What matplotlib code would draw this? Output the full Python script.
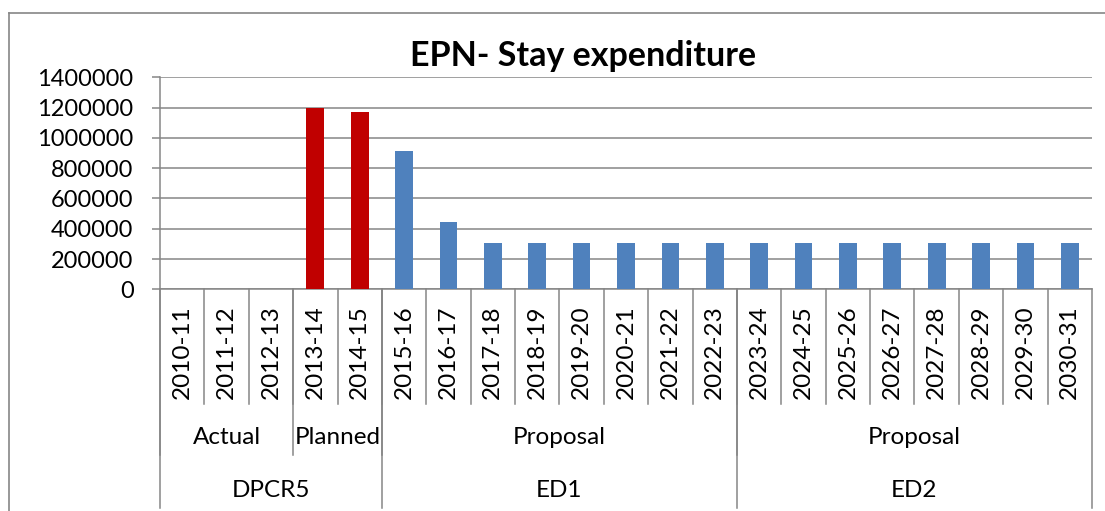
## Import Required Library

import matplotlib.pyplot as plt
from matplotlib.lines import Line2D

## Create Data

years = ["2010-11", "2011-12", "2012-13", "2013-14", "2014-15", "2015-16", "2016-17",
         "2017-18", "2018-19", "2019-20", "2020-21", "2021-22", "2022-23", "2023-24",
         "2024-25", "2025-26", "2026-27", "2027-28", "2028-29", "2029-30", "2030-31"]
spend = [0, 0, 0, 1200000, 1170000, 913000, 442000,
         308000, 308000, 308000, 308000, 308000, 308000, 308000,
         308000, 308000, 308000, 308000, 308000, 308000, 308000]

# second and third level of the category axis: (label, number of years)
status = [("Actual", 3), ("Planned", 2), ("Proposal", 8), ("Proposal", 8)]
periods = [("DPCR5", 5), ("ED1", 8), ("ED2", 8)]

## Style

plt.rcParams['font.family'] = ['Lato', 'DejaVu Sans']
grey = "#868686"
red = "#C00000"
blue = "#4F81BD"

colors = [red if s == "Planned" else blue
          for s, n in status for _ in range(n)]

## Plot Data

fig = plt.figure(figsize=(11.05, 5.11), dpi=100)
ax = fig.add_axes([160 / 1105, 221.7 / 511, 932 / 1105, 212 / 511])

x = list(range(len(years)))
ax.bar(x, spend, width=0.4, color=colors, zorder=3)

ax.set_xlim(-0.5, len(years) - 0.5)
ax.set_ylim(0, 1400000)
ax.set_yticks(range(0, 1400001, 200000))
ax.yaxis.set_major_formatter(plt.FuncFormatter(lambda v, p: f"{int(v)}"))
ax.grid(axis="y", color=grey, lw=1.1, zorder=0)
ax.set_xticks([])

for side in ["top", "right"]:
    ax.spines[side].set_visible(False)
for side in ["left", "bottom"]:
    ax.spines[side].set_color(grey)
    ax.spines[side].set_linewidth(1.1)
ax.tick_params(axis="y", length=6, width=1.1, color=grey, pad=13, labelsize=17)

## Multi-level category axis

trans = ax.get_xaxis_transform()
lvl1, lvl2, lvl3 = -0.541, -0.782, -1.03
cat_size = 17.5


def vline(pos, bottom):
    ax.plot([pos, pos], [0, bottom], color=grey, lw=1.1,
            transform=trans, clip_on=False)


for i, yr in enumerate(years):
    ax.text(i, -0.296, yr, rotation=90, ha="center", va="center",
            fontsize=cat_size, transform=trans)
    if i > 0:
        vline(i - 0.5, lvl1)

start = 0
for label, n in status:
    ax.text(start + n / 2 - 0.5, -0.701, label, ha="center", va="center",
            fontsize=cat_size, transform=trans)
    vline(start - 0.5, lvl2)
    start += n

start = 0
for label, n in periods:
    ax.text(start + n / 2 - 0.5, -0.947, label, ha="center", va="center",
            fontsize=cat_size, transform=trans)
    vline(start - 0.5, lvl3)
    start += n
vline(start - 0.5, lvl3)

## Add Graph Title

fig.text(583 / 1105, 1 - 66 / 511, "EPN- Stay expenditure", ha="center",
         va="baseline", fontsize=24.5, fontweight="bold")

## Chart border

fig.add_artist(Line2D([8.5 / 1105, 8.5 / 1105], [0, 1 - 13.5 / 511], color=grey, lw=1.2))
fig.add_artist(Line2D([8.5 / 1105, 1], [1 - 13.5 / 511, 1 - 13.5 / 511], color=grey, lw=1.2))

## Save Graph

fig.savefig("out.png", dpi=100)
